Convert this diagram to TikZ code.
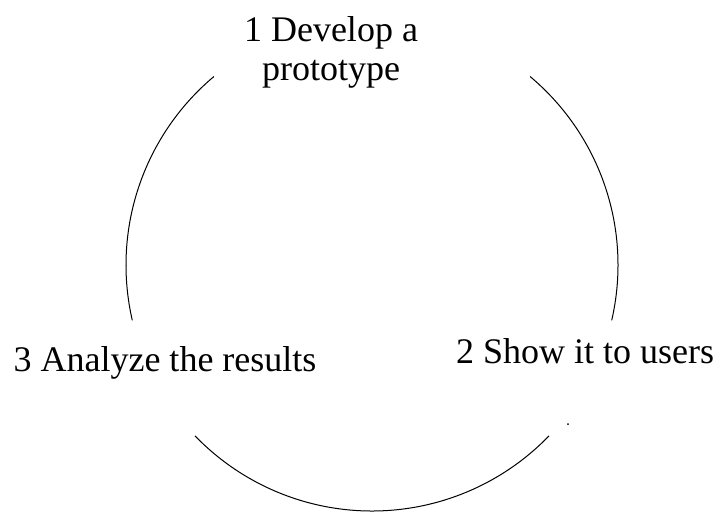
\documentclass[tikz,border=0pt]{standalone}
\usepackage{fontspec}
\setmainfont{Liberation Serif}
\usetikzlibrary{positioning}

\begin{document}
\begin{tikzpicture}[x=0.5pt, y=0.5pt,
    step label/.style={inner sep=0pt, anchor=base, align=center,
        font=\fontsize{18}{19.5}\selectfont},
    cycle arc/.style={line width=0.5pt}]
    \useasboundingbox (0,0) rectangle (722,511);
    \coordinate (c) at (372,246);
    \node (develop) [step label] at (331,431) {1 Develop a\\prototype};
    \node (show) [step label] at (585,148) {2 Show it to users};
    \node (analyze) [step label] at (165,140) {3 Analyze the results};
    % the three arcs of the cycle
    \draw [cycle arc] ([shift={(50:246)}]c) arc[start angle=50, end angle=-13, radius=246];
    \draw [cycle arc] ([shift={(-44:246)}]c) arc[start angle=-44, end angle=-136, radius=246];
    \draw [cycle arc] ([shift={(193:246)}]c) arc[start angle=193, end angle=130, radius=246];
    \fill (568,87) circle (1);
\end{tikzpicture}
\end{document}
